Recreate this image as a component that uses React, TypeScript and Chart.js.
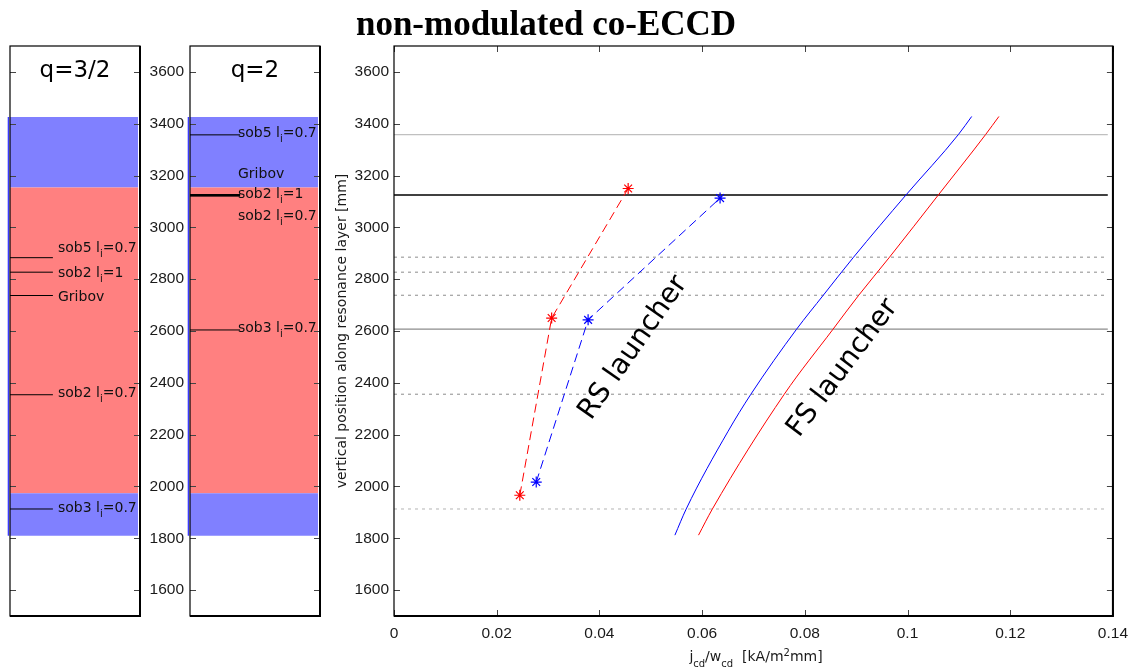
import React, { useEffect, useRef } from 'react';
import { Chart, registerables } from 'chart.js';

Chart.register(...registerables);

// ---------- data ----------
const yTicks = [1600, 1800, 2000, 2200, 2400, 2600, 2800, 3000, 3200, 3400, 3600];
const xTicks = [0, 0.02, 0.04, 0.06, 0.08, 0.1, 0.12, 0.14];
const xTickLabels = ['0', '0.02', '0.04', '0.06', '0.08', '0.1', '0.12', '0.14'];

const rsRedX = [0.0245, 0.0307, 0.0456];
const rsRedY = [1966, 2650, 3150];
const rsBlueX = [0.0277, 0.0378, 0.0635];
const rsBlueY = [2017, 2643, 3113];

const fsBlueX = [0.0547, 0.0569, 0.065, 0.0695, 0.0784, 0.0836, 0.0895, 0.0997, 0.1099, 0.1125];
const fsBlueY = [1812, 1913, 2211, 2356, 2607, 2738, 2885, 3125, 3358, 3428];
const fsRedX = [0.0593, 0.062, 0.076, 0.0855, 0.0905, 0.0965, 0.106, 0.1152, 0.1178];
const fsRedY = [1812, 1913, 2356, 2607, 2738, 2885, 3125, 3358, 3428];

const refLevels = [3358, 3125, 2885, 2827, 2738, 2607, 2356, 1913];
const refColors = ['#c0c0c0', '#000000', '#8c8c8c', '#8c8c8c', '#8c8c8c', '#8c8c8c', '#8c8c8c', '#b4b4b4'];
const refDashed = [false, false, true, true, true, false, true, true];

const bandLo = [1810, 1974, 3154];
const bandHi = [1974, 3154, 3426];
const bandColors = ['#8080ff', '#ff8080', '#8080ff'];

const q32Names = ['sob5', 'sob2', 'Gribov', 'sob2', 'sob3'];
const q32Li = ['0.7', '1', '', '0.7', '0.7'];
const q32Lines = [2883, 2827, 2737, 2354, 1913];
const q32LabelY = [2903, 2810, 2717, 2344, 1902];

const q2Names = ['sob5', 'Gribov', 'sob2', 'sob2', 'sob3'];
const q2Li = ['0.7', '', '1', '0.7', '0.7'];
const q2Lines = [3357, 3123, 3124, 3125, 2604];
const q2LabelY = [3349, 3190, 3113, 3027, 2595];

const rsLabelPos = { x: 0.0466, y: 2535, angle: -55 };
const fsLabelPos = { x: 0.0874, y: 2457, angle: -53 };

// ---------- helpers ----------
const FONT = '"DejaVu Sans", sans-serif';
const TICKFONT = { family: '"Liberation Sans", Arial, sans-serif', size: 15.5 };

type Part = { t: string; size: number; dy: number };

function drawParts(ctx: CanvasRenderingContext2D, parts: Part[], x: number, y: number, center: boolean) {
  let total = 0;
  const widths = parts.map((p) => {
    ctx.font = `${p.size}px ${FONT}`;
    const w = ctx.measureText(p.t).width;
    total += w;
    return w;
  });
  let cx = center ? x - total / 2 : x;
  ctx.textAlign = 'left';
  ctx.textBaseline = 'alphabetic';
  parts.forEach((p, i) => {
    ctx.font = `${p.size}px ${FONT}`;
    ctx.fillText(p.t, cx, y + p.dy);
    cx += widths[i];
  });
}

function labelParts(name: string, li: string): Part[] {
  if (!li) return [{ t: name, size: 14, dy: 0 }];
  return [
    { t: name + ' l', size: 14, dy: 0 },
    { t: 'i', size: 10, dy: 5 },
    { t: '=' + li, size: 14, dy: 0 },
  ];
}

function drawFrame(chart: any, xVals: number[] | null) {
  const { ctx, chartArea: a, scales } = chart;
  const ys = scales.y;
  ctx.save();
  ctx.strokeStyle = '#444';
  ctx.lineWidth = 1;
  yTicks.forEach((v) => {
    const p = Math.round(ys.getPixelForValue(v)) + 0.5;
    ctx.beginPath();
    ctx.moveTo(a.left, p);
    ctx.lineTo(a.left + 6, p);
    ctx.moveTo(a.right - 6, p);
    ctx.lineTo(a.right, p);
    ctx.stroke();
  });
  if (xVals) {
    const xs = scales.x;
    xVals.forEach((v) => {
      const p = Math.round(xs.getPixelForValue(v)) + 0.5;
      ctx.beginPath();
      ctx.moveTo(p, a.bottom);
      ctx.lineTo(p, a.bottom - 6);
      ctx.moveTo(p, a.top);
      ctx.lineTo(p, a.top + 6);
      ctx.stroke();
    });
  }
  ctx.strokeStyle = '#000';
  ctx.lineWidth = 1.2;
  ctx.strokeRect(a.left, a.top, a.right - a.left, a.bottom - a.top);
  ctx.lineWidth = 2;
  ctx.beginPath();
  ctx.moveTo(a.left, a.bottom);
  ctx.lineTo(a.right, a.bottom);
  ctx.lineTo(a.right, a.top);
  ctx.stroke();
  ctx.restore();
}

const pts = (xs: number[], ys: number[]) => xs.map((x, i) => ({ x, y: ys[i] }));

function makeMain(canvas: HTMLCanvasElement) {
  const datasets: any[] = [
    {
      data: pts(rsRedX, rsRedY), borderColor: '#ff0000', borderWidth: 1, borderDash: [9, 5],
      pointStyle: 'star', pointRadius: 5.5, pointBorderColor: '#ff0000', pointBorderWidth: 1.2, pointBackgroundColor: '#ff0000',
    },
    {
      data: pts(rsBlueX, rsBlueY), borderColor: '#0000ff', borderWidth: 1, borderDash: [9, 5],
      pointStyle: 'star', pointRadius: 5.5, pointBorderColor: '#0000ff', pointBorderWidth: 1.2, pointBackgroundColor: '#0000ff',
    },
    { data: pts(fsBlueX, fsBlueY), borderColor: '#0000ff', borderWidth: 1, pointRadius: 0, cubicInterpolationMode: 'monotone' },
    { data: pts(fsRedX, fsRedY), borderColor: '#ff0000', borderWidth: 1, pointRadius: 0, cubicInterpolationMode: 'monotone' },
    ...refLevels.map((v, i) => ({
      data: [{ x: 0, y: v }, { x: 0.139, y: v }],
      borderColor: refColors[i],
      borderWidth: refDashed[i] ? 1 : 1.3,
      borderDash: refDashed[i] ? [3, 4] : [],
      pointRadius: 0,
    })),
  ];

  const textPlugin = {
    id: 'mainText',
    afterDraw(chart: any) {
      drawFrame(chart, xTicks);
      const { ctx, scales } = chart;
      ctx.save();
      ctx.fillStyle = '#000';
      // title
      ctx.font = `bold 35px "Liberation Serif", serif`;
      ctx.textAlign = 'center';
      ctx.textBaseline = 'alphabetic';
      ctx.fillText('non-modulated co-ECCD', 546, 35);
      // y title
      ctx.save();
      ctx.translate(342, 331);
      ctx.rotate(-Math.PI / 2);
      ctx.font = `14px ${FONT}`;
      ctx.textAlign = 'center';
      ctx.textBaseline = 'middle';
      ctx.fillStyle = '#1a1a1a';
      ctx.fillText('vertical position along resonance layer [mm]', 0, 0);
      ctx.restore();
      // x title
      ctx.fillStyle = '#1a1a1a';
      drawParts(ctx, [
        { t: 'j', size: 14, dy: 0 },
        { t: 'cd', size: 10, dy: 6 },
        { t: '/w', size: 14, dy: 0 },
        { t: 'cd', size: 10, dy: 6 },
        { t: '  [kA/m', size: 14, dy: 0 },
        { t: '2', size: 10, dy: -5 },
        { t: 'mm]', size: 14, dy: 0 },
      ], 756, 661, true);
      // launcher labels
      const lbls = [
        { t: 'RS launcher', p: rsLabelPos },
        { t: 'FS launcher', p: fsLabelPos },
      ];
      lbls.forEach(({ t, p }) => {
        ctx.save();
        ctx.translate(scales.x.getPixelForValue(p.x), scales.y.getPixelForValue(p.y));
        ctx.rotate((p.angle * Math.PI) / 180);
        ctx.font = `28px ${FONT}`;
        ctx.textAlign = 'center';
        ctx.textBaseline = 'middle';
        ctx.fillStyle = '#000';
        ctx.fillText(t, 0, 0);
        ctx.restore();
      });
      ctx.restore();
    },
  };

  return new Chart(canvas, {
    type: 'line',
    data: { datasets },
    options: {
      animation: false,
      responsive: false,
      devicePixelRatio: 1,
      layout: { padding: { left: 334, right: 19, top: 46, bottom: 24 } },
      plugins: { legend: { display: false }, tooltip: { enabled: false } },
      scales: {
        x: {
          type: 'linear', min: 0, max: 0.14,
          grid: { display: false, drawTicks: false }, border: { display: false },
          afterBuildTicks: (s: any) => { s.ticks = xTicks.map((v) => ({ value: v })); },
          afterFit: (s: any) => { s.height = 30; },
          ticks: {
            padding: 8, color: '#1a1a1a', font: TICKFONT,
            maxRotation: 0, autoSkip: false,
            callback: (_v: any, i: number) => xTickLabels[i],
          },
        },
        y: {
          type: 'linear', min: 1500, max: 3700,
          grid: { display: false, drawTicks: false }, border: { display: false },
          afterBuildTicks: (s: any) => { s.ticks = yTicks.map((v) => ({ value: v })); },
          afterFit: (s: any) => { s.width = 60; },
          ticks: {
            padding: 5, color: '#1a1a1a', font: TICKFONT,
            autoSkip: false, callback: (v: any) => String(v),
          },
        },
      },
    } as any,
    plugins: [textPlugin],
  });
}

function makePanel(
  canvas: HTMLCanvasElement, qLabel: string, names: string[], lis: string[], lines: number[],
  labelY: number[], lineEnd: number, withLabels: boolean,
) {
  const datasets: any[] = [
    ...lines.map((v) => ({
      data: [{ x: 0, y: v }, { x: lineEnd, y: v }],
      borderColor: '#000',
      borderWidth: lines.filter((o) => Math.abs(o - v) < 10).length > 1 ? 2 : 1,
      pointRadius: 0,
    })),
    {
      data: [{ x: -0.012, y: bandLo[0] }, { x: -0.012, y: bandHi[bandHi.length - 1] }],
      borderColor: '#3a3aff', borderWidth: 1.5, pointRadius: 0, clip: false,
    },
    ...bandLo.map((lo, i) => ({
      data: [{ x: 0, y: lo }, { x: 0.985, y: lo }],
      borderWidth: 0, pointRadius: 0, fill: { value: bandHi[i] }, backgroundColor: bandColors[i],
    })),
  ];

  const panelPlugin = {
    id: 'panelText',
    afterDraw(chart: any) {
      drawFrame(chart, null);
      const { ctx, chartArea: a, scales } = chart;
      ctx.save();
      ctx.fillStyle = '#000';
      ctx.font = `23px ${FONT}`;
      ctx.textAlign = 'center';
      ctx.textBaseline = 'alphabetic';
      ctx.fillText(qLabel, (a.left + a.right) / 2, 77);
      ctx.fillStyle = '#111';
      names.forEach((n, i) => {
        drawParts(ctx, labelParts(n, lis[i]), a.left + 48, scales.y.getPixelForValue(labelY[i]), false);
      });
      ctx.restore();
    },
  };

  return new Chart(canvas, {
    type: 'line',
    data: { datasets },
    options: {
      animation: false,
      responsive: false,
      devicePixelRatio: 1,
      layout: { padding: { left: withLabels ? 0 : 10, right: 5, top: 46, bottom: 54 } },
      plugins: { legend: { display: false }, tooltip: { enabled: false } },
      scales: {
        x: { type: 'linear', min: 0, max: 1, display: false },
        y: {
          type: 'linear', min: 1500, max: 3700, display: withLabels,
          grid: { display: false, drawTicks: false }, border: { display: false },
          afterBuildTicks: (s: any) => { s.ticks = yTicks.map((v) => ({ value: v })); },
          afterFit: (s: any) => { if (withLabels) s.width = 50; },
          ticks: {
            padding: 6, color: '#1a1a1a', font: TICKFONT,
            autoSkip: false, callback: (v: any) => String(v),
          },
        },
      },
    } as any,
    plugins: [panelPlugin],
  });
}

export default function App() {
  const mainRef = useRef<HTMLCanvasElement>(null);
  const leftRef = useRef<HTMLCanvasElement>(null);
  const midRef = useRef<HTMLCanvasElement>(null);

  useEffect(() => {
    const charts = [
      makeMain(mainRef.current!),
      makePanel(leftRef.current!, 'q=3/2', q32Names, q32Li, q32Lines, q32LabelY, 0.33, false),
      makePanel(midRef.current!, 'q=2', q2Names, q2Li, q2Lines, q2LabelY, 0.385, true),
    ];
    return () => charts.forEach((c) => c.destroy());
  }, []);

  return (
    <div style={{ position: 'fixed', left: 0, top: 0, width: 1136, height: 670, background: '#fff' }}>
      <canvas ref={mainRef} width={1136} height={670} style={{ position: 'absolute', left: 0, top: 0 }} />
      <canvas ref={leftRef} width={145} height={670} style={{ position: 'absolute', left: 0, top: 0 }} />
      <canvas ref={midRef} width={185} height={670} style={{ position: 'absolute', left: 140, top: 0 }} />
    </div>
  );
}
